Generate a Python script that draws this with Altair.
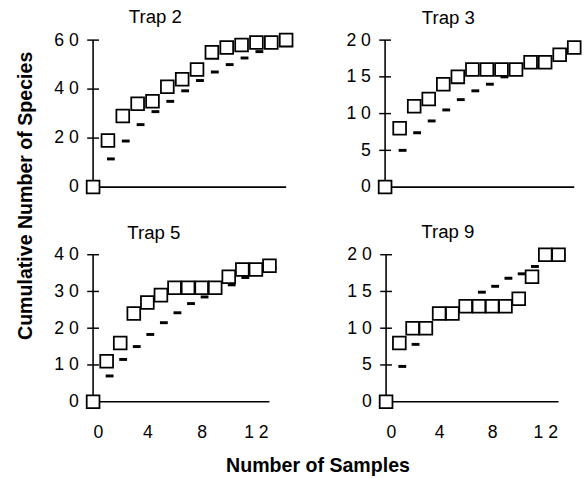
import altair as alt
import pandas as pd

samples = list(range(14))

trap2_obs = [0, 19, 29, 34, 35, 41, 44, 48, 55, 57, 58, 59, 59, 60]
trap2_exp = [0, 11.5, 18.8, 25.5, 30.8, 35, 39.3, 43.5, 47, 50, 52.7, 55.3, 57.5, 59.5]

trap3_obs = [0, 8, 11, 12, 14, 15, 16, 16, 16, 16, 17, 17, 18, 19]
trap3_exp = [0, 5.0, 7.4, 9.0, 10.5, 11.9, 13.1, 14.0, 15.0, 15.7, 16.4, 17.0, 17.6, 18.5]

trap5_obs = [0, 11, 16, 24, 27, 29, 31, 31, 31, 31, 34, 36, 36, 37]
trap5_exp = [0, 7.0, 11.5, 15.0, 18.3, 21.5, 24.2, 26.7, 28.5, 30.3, 31.8, 33.8, 35.2, 36.5]

trap9_obs = [0, 8, 10, 10, 12, 12, 13, 13, 13, 13, 14, 17, 20, 20]
trap9_exp = [0, 4.8, 7.8, 9.7, 11.3, 12.4, 13.6, 14.9, 15.7, 16.8, 17.4, 18.4, 19.3, 20.0]

trap2_ticks = [0, 20, 40, 60]
trap3_ticks = [0, 5, 10, 15, 20]
trap5_ticks = [0, 10, 20, 30, 40]
trap9_ticks = [0, 5, 10, 15, 20]
x_ticks = [0, 4, 8, 12]
x_max = 13

FONT = "Liberation Sans"
SPACED = "join(split(datum.label, ''), ' ')"


def panel(name, obs, exp, yticks, width, height, show_x, title_dx):
    ymax = yticks[-1]
    df = pd.DataFrame({"sample": samples, "observed": obs, "expected": exp})
    tdf = pd.DataFrame({"tick": yticks})
    adf = pd.DataFrame({"x0": [0], "x1": [x_max], "y0": [0], "y1": [ymax]})
    xscale = alt.Scale(domain=[0, x_max], nice=False, zero=True, padding=0)
    yscale = alt.Scale(domain=[0, ymax], nice=False, zero=True, padding=0)
    xaxis = alt.Axis(values=x_ticks, ticks=False, grid=False, title=None,
                     labels=show_x, domain=False, labelFont=FONT, labelFontSize=18,
                     labelPadding=23, labelExpr=SPACED, labelColor="black",
                     labelOverlap=False)
    yaxis = alt.Axis(values=yticks, ticks=False, grid=False, title=None,
                     domain=False, labelFont=FONT, labelFontSize=18, labelPadding=15,
                     labelExpr=SPACED, labelColor="black", labelOverlap=False)
    ybar = alt.Chart(adf).mark_bar(width=1.6, color="black", opacity=1).encode(
        x=alt.X("x0:Q", scale=xscale, axis=xaxis),
        y=alt.Y("y0:Q", scale=yscale, axis=yaxis),
        y2="y1:Q",
    )
    xbar = alt.Chart(adf).mark_bar(height=1.6, color="black", opacity=1).encode(
        x=alt.X("x0:Q", scale=xscale, axis=xaxis),
        x2="x1:Q",
        y=alt.Y("y0:Q", scale=yscale, axis=yaxis),
    )
    crosses = alt.Chart(tdf).mark_tick(
        orient="horizontal", size=12, thickness=1.5, color="black", opacity=1
    ).encode(
        x=alt.X(datum=0, type="quantitative", scale=xscale, axis=xaxis),
        y=alt.Y("tick:Q", scale=yscale, axis=yaxis),
    )
    dashes = alt.Chart(df).mark_tick(
        orient="horizontal", size=8, thickness=3, color="black", xOffset=3, opacity=1
    ).encode(
        x=alt.X("sample:Q", scale=xscale, axis=xaxis),
        y=alt.Y("expected:Q", scale=yscale, axis=yaxis),
    )
    squares = alt.Chart(df).mark_square(
        size=170, filled=True, fill="white", stroke="black", strokeWidth=1.8, opacity=1
    ).encode(
        x=alt.X("sample:Q", scale=xscale, axis=xaxis),
        y=alt.Y("observed:Q", scale=yscale, axis=yaxis),
    )
    return alt.layer(ybar, xbar, crosses, dashes, squares).properties(
        width=width, height=height,
        title=alt.TitleParams(name, font=FONT, fontSize=19, fontWeight="normal",
                              color="black", anchor="middle", frame="group",
                              dx=title_dx, offset=3),
    )


p2 = panel("Trap 2", trap2_obs, trap2_exp, trap2_ticks, 197, 150, False, -35)
p3 = panel("Trap 3", trap3_obs, trap3_exp, trap3_ticks, 193, 150, False, -32)
p5 = panel("Trap 5", trap5_obs, trap5_exp, trap5_ticks, 180, 150, True, -28)
p9 = panel("Trap 9", trap9_obs, trap9_exp, trap9_ticks, 176, 150, True, -25)

row1 = alt.hconcat(p2, p3, spacing=49)
row2 = alt.hconcat(p5, p9, spacing=67)

inner = alt.vconcat(row1, row2, spacing=25).properties(
    title=alt.TitleParams("Cumulative Number of Species", orient="left",
                          anchor="middle", font=FONT, fontSize=20,
                          fontWeight="bold", color="black", offset=18, dx=30)
)

chart = alt.vconcat(inner).properties(
    title=alt.TitleParams("Number of Samples", orient="bottom", anchor="middle",
                          font=FONT, fontSize=20, fontWeight="bold",
                          color="black", offset=15, dx=18),
    padding={"left": 16, "top": 3, "right": 0, "bottom": 0},
    background="white",
).configure_view(stroke=None, fill=None).configure_axis(
    labelOverlap=False, ticks=False, grid=False, domain=False
).configure_scale(continuousPadding=0)

chart.save("out.html", embed_options={"renderer": "svg", "actions": False})
